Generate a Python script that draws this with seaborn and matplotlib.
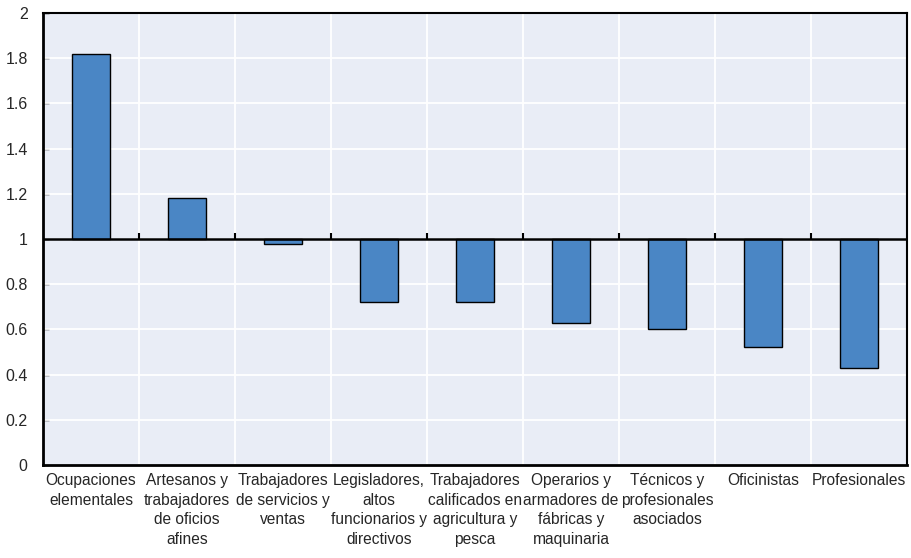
import matplotlib
matplotlib.use("Agg")
import matplotlib.pyplot as plt
import numpy as np
import pandas as pd
import seaborn as sns

categories = [
    "Ocupaciones\nelementales",
    "Artesanos y\ntrabajadores\nde oficios\nafines",
    "Trabajadores\nde servicios y\nventas",
    "Legisladores,\naltos\nfuncionarios y\ndirectivos",
    "Trabajadores\ncalificados en\nagricultura y\npesca",
    "Operarios y\narmadores de\nfábricas y\nmaquinaria",
    "Técnicos y\nprofesionales\nasociados",
    "Oficinistas",
    "Profesionales",
]
values = [1.82, 1.18, 0.98, 0.72, 0.72, 0.63, 0.60, 0.52, 0.43]
baseline = 1.0
y_ticks = [0, 0.2, 0.4, 0.6, 0.8, 1, 1.2, 1.4, 1.6, 1.8, 2]
y_tick_labels = ["0", "0.2", "0.4", "0.6", "0.8", "1", "1.2", "1.4", "1.6", "1.8", "2"]

sns.set_theme(style="white")
plt.rcParams["font.family"] = ["Liberation Sans Narrow", "Liberation Sans", "DejaVu Sans"]

df = pd.DataFrame({"cat": categories, "delta": np.array(values) - baseline})

fig = plt.figure(figsize=(9.12, 5.58), dpi=100)
ax = fig.add_axes([43 / 912, 1 - 465 / 558, (907 - 43) / 912, (465 - 13) / 558])
ax.set_facecolor("#E9EDF6")

sns.barplot(data=df, x="cat", y="delta", bottom=baseline, color="#4A86C5",
            saturation=1, width=0.4, edgecolor="black", linewidth=1.0, ax=ax, zorder=3)

n = len(categories)
bounds = np.arange(n - 1) + 0.5
for b in bounds:
    ax.axvline(b, color="white", lw=1.3, zorder=1)
for t in y_ticks:
    ax.axhline(t, color="white", lw=1.3, zorder=1)
ax.axhline(baseline, color="black", lw=1.8, zorder=4)
ax.vlines(bounds, baseline, baseline + 0.025, color="black", lw=1.5, zorder=4)

ax.set_xlim(-0.5, n - 0.5)
ax.set_ylim(0, 2)
ax.set_yticks(y_ticks)
ax.set_yticklabels(y_tick_labels, fontsize=11.5)
ax.tick_params(axis="y", direction="in", length=4, width=1, color="black", pad=11, left=True)
ax.tick_params(axis="x", length=0, pad=6)
ax.set_xticks(range(n))
ax.set_xticklabels(categories, fontsize=11.2, linespacing=1.38)
ax.set_xlabel("")
ax.set_ylabel("")
for s in ax.spines.values():
    s.set_visible(True)
    s.set_color("black")
ax.spines["left"].set_linewidth(2)
ax.spines["bottom"].set_linewidth(2)
ax.spines["top"].set_linewidth(1.5)
ax.spines["right"].set_linewidth(1.5)

fig.savefig("out.png", dpi=100)
